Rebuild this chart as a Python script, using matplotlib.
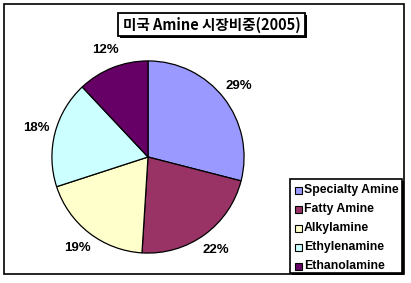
import matplotlib
matplotlib.use("Agg")
import matplotlib.pyplot as plt
from matplotlib.patches import Rectangle

title = "미국 Amine 시장비중(2005)"
categories = ["Specialty Amine", "Fatty Amine", "Alkylamine", "Ethylenamine", "Ethanolamine"]
shares = [29, 22, 19, 18, 12]
colors = ["#9999FF", "#993366", "#FFFFCC", "#CCFFFF", "#660066"]

W, H = 411, 283
fig = plt.figure(figsize=(W / 100, H / 100), dpi=100)
fig.patch.set_facecolor("white")

def fx(px):
    return px / W

def fy(py):
    return (H - py) / H

# outer border
fig.patches.append(Rectangle((fx(4), fy(274)), fx(404) - fx(4), fy(4) - fy(274),
                             transform=fig.transFigure, fill=False, ec="black", lw=1.2))

# pie
cx, cy, r = 148, 157, 98
ax = fig.add_axes([fx(cx - r), fy(cy + r), 2 * r / W, 2 * r / H])
wedges, texts = ax.pie(shares, colors=colors, startangle=90, counterclock=False,
                       labels=[f"{v}%" for v in shares], labeldistance=1.2,
                       wedgeprops=dict(edgecolor="black", linewidth=0.9),
                       textprops=dict(fontsize=9.5, fontweight="bold", family="Liberation Sans"))
for t in texts:
    t.set_ha("center")
    t.set_va("center")
ax.set_xlim(-1.02, 1.02)
ax.set_ylim(-1.02, 1.02)
ax.set_aspect("auto")
ax.axis("off")

def box(x0, y0, x1, y1, lw=1.2, shadow=2):
    if shadow:
        fig.patches.append(Rectangle((fx(x0 + shadow), fy(y1 + shadow)), fx(x1) - fx(x0), fy(y0) - fy(y1),
                                     transform=fig.transFigure, fc="black", ec="black", lw=0))
    fig.patches.append(Rectangle((fx(x0), fy(y1)), fx(x1) - fx(x0), fy(y0) - fy(y1),
                                 transform=fig.transFigure, fill=True, fc="white", ec="black", lw=lw))

# title box
box(118, 13, 305, 36, lw=1.3, shadow=2)
fig.text(fx(212), fy(25), title, ha="center", va="center", fontsize=10.5, fontweight="bold",
         family=["Noto Sans CJK KR", "DejaVu Sans"])

# legend box
box(290, 179, 402, 273, lw=1.2, shadow=2)
for i, (c, name) in enumerate(zip(colors, categories)):
    yy = 190 + 19 * i
    fig.patches.append(Rectangle((fx(295), fy(yy + 3.5)), 7 / W, 7 / H,
                                 transform=fig.transFigure, fc=c, ec="black", lw=0.8))
    fig.text(fx(304), fy(yy), name, ha="left", va="center", fontsize=8.8, fontweight="bold",
             family="Liberation Sans")

fig.savefig("out.png", dpi=100)
